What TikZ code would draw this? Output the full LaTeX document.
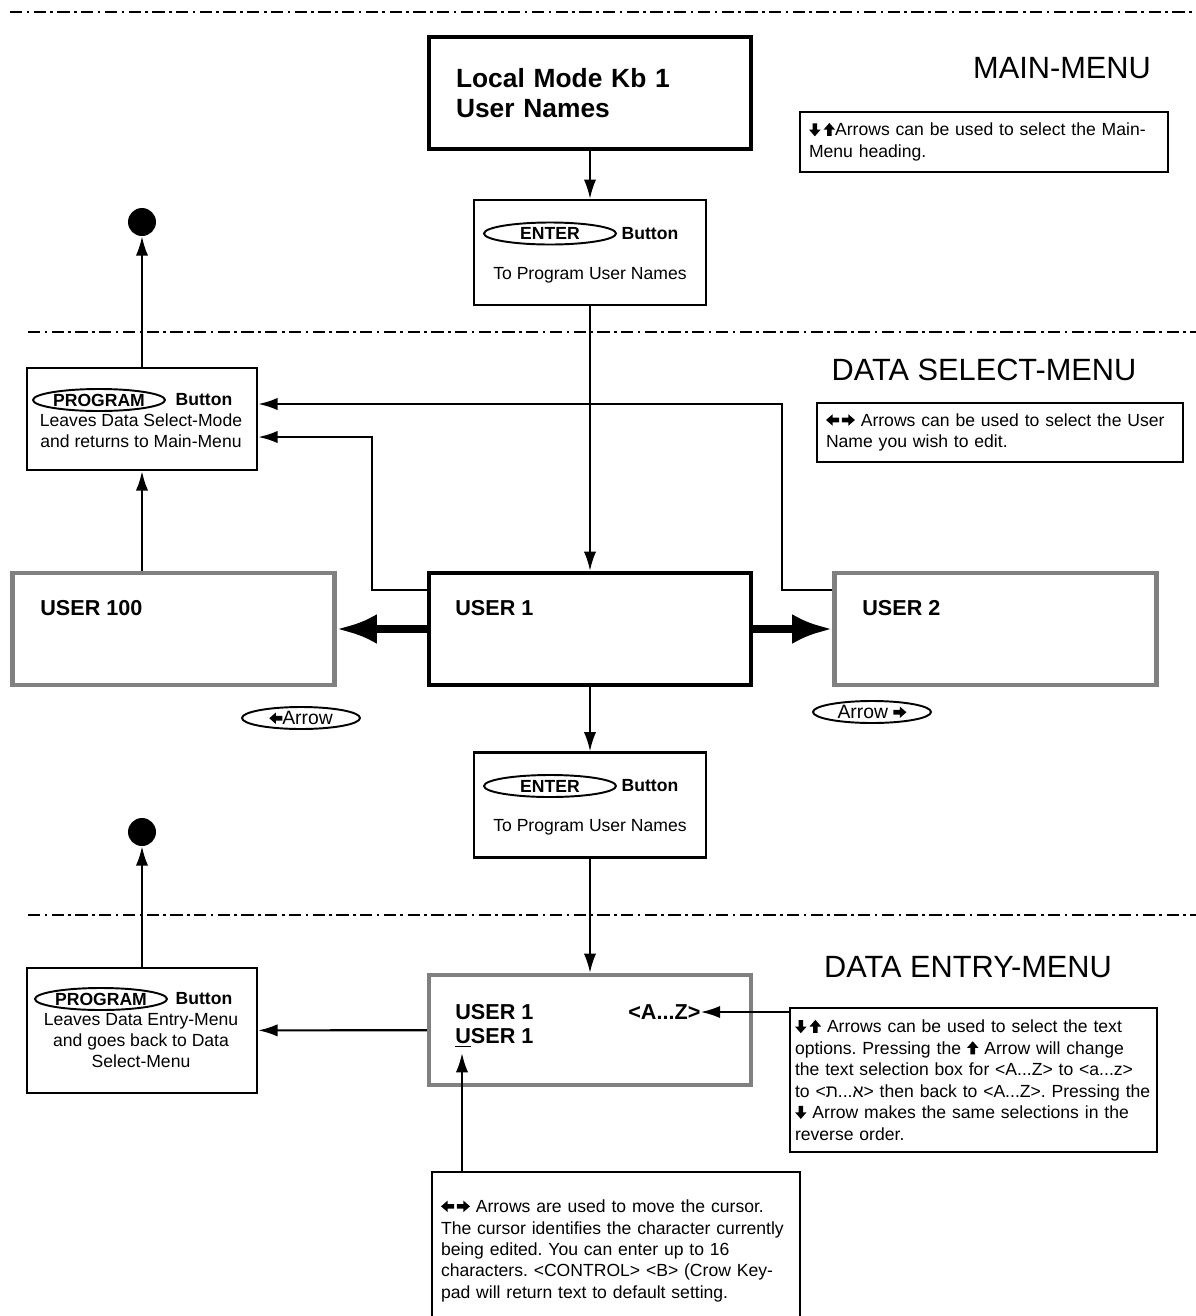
\documentclass[tikz,border=0pt]{standalone}
\usepackage{fontspec}
\setmainfont{Liberation Sans}
\usetikzlibrary{arrows.meta,shapes.geometric,calc}
\definecolor{boxgray}{gray}{0.5}
% small block arrows used inside the texts
\newcommand\blkarrow[1]{\tikz[baseline={(0,0)},x=1pt,y=1pt]
  \fill[rotate around={#1:(0,3.6)}] (-1.3,0) -- (1.3,0) -- (1.3,3.6) -- (3.3,3.6)
    -- (0,7.4) -- (-3.3,3.6) -- (-1.3,3.6) -- cycle;}
\newcommand\arrup{\blkarrow{0}}
\newcommand\arrdn{\blkarrow{180}}
\newcommand\arrlt{\blkarrow{90}}
\newcommand\arrrt{\blkarrow{-90}}
\tikzset{
  sepline/.style={line width=1.6pt, dash pattern=on 7pt off 2.5pt on 1.5pt off 2.5pt},
  menutitle/.style={font=\fontsize{17.5}{20}\selectfont, inner sep=0pt},
  mainbox/.style={draw, line width=2.4pt, minimum width=6.44cm, minimum height=2.24cm,
    text width=5.36cm, inner xsep=0.54cm, align=left, font=\bfseries\fontsize{15}{17}\selectfont},
  userbox/.style={draw, line width=2.4pt, minimum width=6.44cm, minimum height=2.24cm},
  graybox/.style={userbox, draw=boxgray},
  btnbox/.style={draw, line width=1.3pt, minimum width=4.64cm, minimum height=2.1cm},
  progbox/.style={draw, line width=1.4pt, minimum width=4.6cm},
  notebox/.style={draw, line width=0.7pt, inner xsep=0.18cm, align=left,
    font=\frenchspacing\fontsize{10}{12.2}\selectfont},
  keyoval/.style={ellipse, draw, line width=1.1pt, minimum width=2.64cm, minimum height=0.44cm,
    inner sep=0pt, font=\bfseries\fontsize{10}{12}\selectfont},
  arrowoval/.style={keyoval, minimum width=2.36cm, font=\fontsize{11}{12}\selectfont},
  btntext/.style={inner sep=0pt, font=\bfseries\fontsize{10}{12}\selectfont},
  boxtext/.style={inner sep=0pt, align=center, font=\fontsize{10}{12}\selectfont},
  usertext/.style={inner sep=0pt, anchor=west, font=\bfseries\fontsize{12.3}{15}\selectfont},
  enddot/.style={circle, fill, minimum size=0.56cm, inner sep=0pt},
  arr/.style={line width=1.2pt, -{Latex[length=11pt,width=7pt]}},
  bigarr/.style={line width=4.5pt, -{Latex[length=23pt,width=17pt]}}
}
\begin{document}
\begin{tikzpicture}[x=0.02cm, y=-0.02cm]
  \clip (0,0) rectangle (1196,1316);

  % menu borders
  \draw[sepline] (10,12) -- (1196,12);
  \draw[sepline] (28,332) -- (1196,332);
  \draw[sepline] (28,915) -- (1196,915);

  \node[menutitle] (mainttl) at (1062,68) {MAIN-MENU};
  \node[menutitle] (selttl) at (984,370) {DATA SELECT-MENU};
  \node[menutitle] (entttl) at (968,967) {DATA ENTRY-MENU};

  % main menu
  \node[mainbox] (main) at (590,93) {Local Mode Kb 1\\User Names};
  \node[notebox, text width=7cm, minimum height=1.2cm] (note1) at (984,142)
    {\arrdn\,\arrup Arrows can be used to select the Main-\\Menu heading.};

  \foreach \n/\y in {enter1/252.5, enter2/805}{
    \node[btnbox] (\n) at (590,\y) {};
    \node[keyoval] (\n-key) at ($(\n)+(-40,-19)$) {ENTER};
    \node[btntext] (\n-btn) at ($(\n)+(60,-19)$) {Button};
    \node[boxtext] (\n-txt) at ($(\n)+(0,22.5)$) {To Program User Names};
  }

  % data select menu
  \node[progbox, minimum height=2.04cm] (prog1) at (142,419) {};
  \node[keyoval] (prog1-key) at (99,400) {PROGRAM};
  \node[btntext] (prog1-btn) at (204,400) {Button};
  \node[boxtext] (prog1-txt) at (141,430.5) {Leaves Data Select-Mode\\and returns to Main-Menu};
  \node[enddot] (dot1) at (142,222) {};

  \node[notebox, text width=6.96cm, minimum height=1.18cm] (note2) at (1000,432.5)
    {\arrlt\,\arrrt{} Arrows can be used to select the User\\Name you wish to edit.};

  \node[graybox] (user100) at (173.5,629) {};
  \node[userbox] (user1) at (590,629) {};
  \node[graybox] (user2) at (995.5,629) {};
  \node[usertext] (user100-txt) at (40,608) {USER 100};
  \node[usertext] (user1-txt) at (455,608) {USER 1};
  \node[usertext] (user2-txt) at (862,608) {USER 2};

  \node[arrowoval] (leftkey) at (301,718) {\arrlt Arrow};
  \node[arrowoval] (rightkey) at (872,712) {Arrow \arrrt};

  % data entry menu
  \node[graybox, minimum height=2.2cm] (entry) at (590,1030) {};
  \node[usertext] (entry-l1) at (455,1012) {USER 1};
  \node[usertext] (az) at (628,1012) {<A...Z>};
  \node[usertext] (entry-l2) at (455,1038) {\underline{U}SER 1};
  \coordinate (cursor) at (462,1053);

  \node[progbox, minimum height=2.5cm] (prog2) at (142,1030.5) {};
  \node[keyoval] (prog2-key) at (101,999) {PROGRAM};
  \node[btntext] (prog2-btn) at (204,999) {Button};
  \node[boxtext] (prog2-txt) at (141,1040.5) {Leaves Data Entry-Menu\\and goes back to Data\\Select-Menu};
  \node[enddot] (dot2) at (142,832) {};

  \node[notebox, text width=7.14cm, inner xsep=0.1cm, minimum height=2.88cm] (note3) at (973.5,1080)
    {\arrdn\,\arrup{} Arrows can be used to select the text\\options. Pressing the \arrup{} Arrow will change\\the text selection box for <A...Z> to <a...z>\\to <א...ת> then back to <A...Z>. Pressing the\\\arrdn{} Arrow makes the same selections in the\\reverse order.};
  \node[notebox, text width=7cm, minimum height=3.16cm] (note4) at (616,1251)
    {\arrlt\,\arrrt{} Arrows are used to move the cursor.\\The cursor identifies the character currently\\being edited. You can enter up to 16\\characters. <CONTROL> <B> (Crow Key-\\pad will return text to default setting.\\[4.2em]};

  % connectors
  \draw[arr] (main) -- (enter1);
  \draw[arr] (enter1) -- (user1);
  \draw[arr] (user100.north -| prog1) -- (prog1);
  \draw[arr] (prog1) -- (dot1);
  \draw[arr] ($(user1.north west)+(0,19)$) -- ++(-55,0) |- ($(prog1.east)+(0,18)$);
  \draw[arr] ($(user2.north west)+(0,19)$) -- ++(-50,0) |- ($(prog1.east)+(0,-15)$);
  \draw[bigarr] (user1) -- (user100);
  \draw[bigarr] (user1) -- (user2);
  \draw[arr] (user1) -- (enter2);
  \draw[arr] (enter2) -- (entry);
  \draw[arr] (entry) -- (prog2);
  \draw[arr] (prog2) -- (dot2);
  \draw[arr] (note3.west |- az) -- (az.east);
  \draw[arr] (note4.north -| cursor) -- (cursor);
\end{tikzpicture}
\end{document}
